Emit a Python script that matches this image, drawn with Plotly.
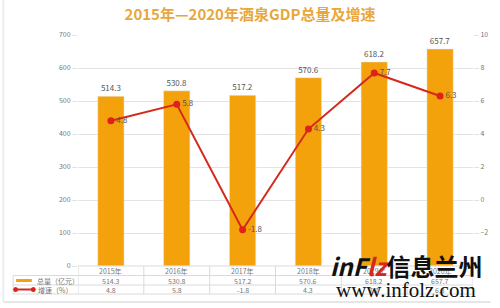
import plotly.graph_objects as go

years = ["2015年", "2016年", "2017年", "2018年", "2019年", "2020年"]
gdp = [514.3, 530.8, 517.2, 570.6, 618.2, 657.7]
growth = [4.8, 5.8, -1.8, 4.3, 7.7, 6.3]
left_ticks = [0, 100, 200, 300, 400, 500, 600, 700]
right_ticks = [-2, 0, 2, 4, 6, 8, 10]

W, H = 500, 308
ML, MR, MT, MB = 78, 20, 35, 42
PW, PH = W - ML - MR, H - MT - MB

def py(Y):  # pixel y -> paper y
    return (H - MB - Y) / PH

def px(X):  # pixel x -> paper x
    return (X - ML) / PW

xs = list(range(len(years)))
fig = go.Figure()
fig.add_trace(go.Bar(
    x=xs, y=gdp, name="总量（亿元）", marker_color="#F4A20C", width=0.4,
    text=[f"{v:.1f}" for v in gdp], textposition="outside",
    textfont=dict(size=8, color="#555"), cliponaxis=False,
))
fig.add_trace(go.Scatter(
    x=xs, y=growth, name="增速（%）", yaxis="y2", mode="lines+markers+text",
    line=dict(color="#D42A1C", width=2), marker=dict(color="#E0201A", size=7),
    text=[f"{v:g}" for v in growth], textposition="middle right",
    textfont=dict(size=8, color="#555"), cliponaxis=False,
))

gridc = "#E3E3E3"
fig.update_layout(
    width=W, height=H, margin=dict(l=ML, r=MR, t=MT, b=MB),
    paper_bgcolor="white", plot_bgcolor="white", showlegend=False,
    font=dict(family="Noto Sans CJK SC, Noto Sans, sans-serif", color="#666"),
    title=dict(text="<b>2015年—2020年酒泉GDP总量及增速</b>", x=0.5, xanchor="center",
               y=1 - 15 / H, yanchor="middle",
               font=dict(size=15, color="#E8A73A", family="Noto Sans CJK SC")),
    xaxis=dict(range=[-0.5, 5.5], showticklabels=False, showgrid=False,
               zeroline=False, showline=False, fixedrange=True),
    yaxis=dict(range=[0, 700], tickvals=left_ticks, showgrid=True, gridcolor=gridc,
               gridwidth=1, zeroline=False, tickfont=dict(size=7, color="#777"),
               ticks="outside", ticklen=5, tickcolor=gridc, ticklabelstandoff=0),
    yaxis2=dict(range=[-4, 10], tickvals=right_ticks, overlaying="y", side="right",
                showgrid=False, zeroline=False, tickfont=dict(size=7, color="#777"),
                ticks="outside", ticklen=5, tickcolor=gridc),
    bargap=0.6,
)

shapes = []
lc = "#DADADA"
yl = [266, 275.5, 285, 294]
for i, Y in enumerate(yl):
    x0 = px(78) if i == 0 else px(12)
    shapes.append(dict(type="line", xref="paper", yref="paper", x0=x0, x1=1,
                       y0=py(Y), y1=py(Y), line=dict(color=lc, width=1)))
for k in range(len(years) + 1):
    shapes.append(dict(type="line", xref="x", yref="paper", x0=k - 0.5, x1=k - 0.5,
                       y0=py(266), y1=py(294), line=dict(color=lc, width=1)))
shapes.append(dict(type="line", xref="paper", yref="paper", x0=px(12), x1=px(12),
                   y0=py(275.5), y1=py(294), line=dict(color=lc, width=1)))
shapes.append(dict(type="rect", xref="paper", yref="paper", x0=px(15), x1=px(31),
                   y0=py(282), y1=py(279), fillcolor="#F4A20C", line=dict(width=0)))
shapes.append(dict(type="line", xref="paper", yref="paper", x0=px(14), x1=px(33),
                   y0=py(289.5), y1=py(289.5), line=dict(color="#D42A1C", width=2)))
for X in (14.5, 32.5):
    shapes.append(dict(type="circle", xref="paper", yref="paper",
                       x0=px(X - 2.5), x1=px(X + 2.5), y0=py(292), y1=py(287),
                       fillcolor="#E0201A", line=dict(width=0)))
shapes.append(dict(type="line", xref="paper", yref="paper", x0=px(2), x1=px(498),
                   y0=py(302), y1=py(302), line=dict(color="#E6E6E6", width=2)))
shapes.append(dict(type="line", xref="paper", yref="paper", x0=px(2), x1=px(2),
                   y0=py(0), y1=py(302), line=dict(color="#EEEEEE", width=2)))
fig.update_layout(shapes=shapes)

ann = []
tf = dict(size=7, color="#777")
for i, yr in enumerate(years):
    ann.append(dict(x=i, y=py(270.5), xref="x", yref="paper", text=yr, showarrow=False,
                    font=tf, yanchor="middle"))
    ann.append(dict(x=i, y=py(280.5), xref="x", yref="paper", text=f"{gdp[i]:.1f}",
                    showarrow=False, font=tf, yanchor="middle"))
    ann.append(dict(x=i, y=py(289.5), xref="x", yref="paper", text=f"{growth[i]:g}",
                    showarrow=False, font=tf, yanchor="middle"))
ann.append(dict(x=px(34), y=py(280.5), xref="paper", yref="paper", text="总量（亿元）",
                showarrow=False, font=tf, xanchor="left", yanchor="middle"))
ann.append(dict(x=px(35), y=py(289.5), xref="paper", yref="paper", text="增速（%）",
                showarrow=False, font=tf, xanchor="left", yanchor="middle"))
# watermark
ann.append(dict(x=px(412), y=py(265), xref="paper", yref="paper",
                text="<b><i>inF<span style='color:#D8261C'>lz</span></i>信息兰州</b>",
                showarrow=False, xanchor="center", yanchor="middle",
                font=dict(size=24, color="#111", family="Noto Sans CJK SC")))
ann.append(dict(x=px(412), y=py(290), xref="paper", yref="paper", text="www.infolz.com",
                showarrow=False, xanchor="center", yanchor="middle",
                font=dict(size=21, color="#111", family="Liberation Serif")))
fig.update_layout(annotations=ann)

fig.write_html("out.html")
